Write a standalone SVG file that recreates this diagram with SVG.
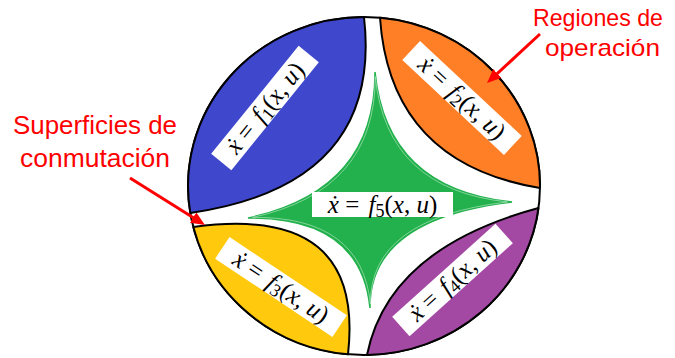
<svg xmlns="http://www.w3.org/2000/svg" width="675" height="358" viewBox="0 0 675 358">
<style>
.reg{stroke:#000;stroke-width:2;stroke-linejoin:round}
.lb{fill:#fff}
.mt{font-family:"Liberation Serif","DejaVu Serif",serif;font-size:25px;fill:#000;text-anchor:middle}
.i{font-style:italic}
.sub{font-size:18px}
.red{font-family:"Liberation Sans",Arial,sans-serif;font-size:26px;fill:#f00;text-anchor:middle}
.red2{font-family:"Liberation Sans",Arial,sans-serif;font-size:24px;fill:#f00;text-anchor:middle}
.arr{stroke:#f00;stroke-width:3;fill:none}
</style>
<defs>
<marker id="ah" markerUnits="userSpaceOnUse" markerWidth="14" markerHeight="12" refX="6" refY="6" orient="auto">
<path d="M0,0 L14,6 L0,12 Z" fill="#f00"/>
</marker>
</defs>
<rect width="675" height="358" fill="#fff"/>
<g id="outline">
<ellipse cx="364" cy="186" rx="176" ry="169" fill="#fff" stroke="#000" stroke-width="2"/>
</g>
<g id="region1">
<path class="reg" fill="#3F48CC" d="M364,17 A176 169 0 0 0 190.3,213 Q383,185 364,17 Z"/>
<g transform="translate(265,108) rotate(-51)">
<rect class="lb" x="-69.5" y="-13" width="139" height="26"/>
<text class="mt" x="0" y="8"><tspan class="i">ẋ</tspan> = <tspan class="i" dx="3">f</tspan><tspan class="sub" dy="4">1</tspan><tspan dy="-4">(</tspan><tspan class="i">x</tspan>, <tspan class="i">u</tspan>)</text>
</g>
</g>
<g id="region2">
<path class="reg" fill="#FF7F27" d="M380,17.7 A176 169 0 0 1 540,188 Q390,163 380,17.7 Z"/>
<g transform="translate(462,98) rotate(43)">
<rect class="lb" x="-69.5" y="-13" width="139" height="26"/>
<text class="mt" x="0" y="8"><tspan class="i">ẋ</tspan> = <tspan class="i" dx="3">f</tspan><tspan class="sub" dy="4">2</tspan><tspan dy="-4">(</tspan><tspan class="i">x</tspan>, <tspan class="i">u</tspan>)</text>
</g>
</g>
<g id="region3">
<path class="reg" fill="#FFC90E" d="M193.3,227 A176 169 0 0 0 348,354.3 Q365,203.5 193.3,227 Z"/>
<g transform="translate(281,287) rotate(33.7)">
<rect class="lb" x="-70.5" y="-13" width="141" height="26"/>
<text class="mt" x="0" y="8"><tspan class="i">ẋ</tspan> = <tspan class="i" dx="3">f</tspan><tspan class="sub" dy="4">3</tspan><tspan dy="-4">(</tspan><tspan class="i">x</tspan>, <tspan class="i">u</tspan>)</text>
</g>
</g>
<g id="region4">
<path class="reg" fill="#A349A4" d="M538.5,208 A176 169 0 0 1 367,355 Q388.5,248.5 538.5,208 Z"/>
<g transform="translate(452.5,280) rotate(-42)">
<rect class="lb" x="-69.5" y="-13" width="139" height="26"/>
<text class="mt" x="0" y="8"><tspan class="i">ẋ</tspan> = <tspan class="i" dx="3">f</tspan><tspan class="sub" dy="4">4</tspan><tspan dy="-4">(</tspan><tspan class="i">x</tspan>, <tspan class="i">u</tspan>)</text>
</g>
</g>
<g id="region5">
<path fill="#22B14C" stroke="#22B14C" stroke-width="1.5" d="M375,72 Q386.5,189 512,202 Q369,219 370,308 Q361,217 248,218 Q375.5,190.5 375,72 Z"/>
<path fill="none" stroke="#c8ecd2" stroke-width="0.6" transform="translate(382,200) scale(0.965) translate(-382,-200)" d="M375,72 Q386.5,189 512,202 Q369,219 370,308 Q361,217 248,218 Q375.5,190.5 375,72 Z"/>
<rect class="lb" x="312" y="192" width="141" height="25"/>
<text class="mt" x="382.5" y="212.5"><tspan class="i">ẋ</tspan> = <tspan class="i" dx="3">f</tspan><tspan class="sub" dy="4">5</tspan><tspan dy="-4">(</tspan><tspan class="i">x</tspan>, <tspan class="i">u</tspan>)</text>
</g>
<g id="label-superficies">
<text class="red" x="95" y="134" textLength="164" lengthAdjust="spacingAndGlyphs">Superficies de</text>
<text class="red" x="95" y="167" textLength="150" lengthAdjust="spacingAndGlyphs">conmutación</text>
</g>
<g id="label-regiones">
<text class="red2" x="598" y="26" textLength="130" lengthAdjust="spacingAndGlyphs">Regiones de</text>
<text class="red2" x="602.5" y="56" textLength="115" lengthAdjust="spacingAndGlyphs">operación</text>
</g>
<g id="connectors">
<line class="arr" x1="540" y1="34" x2="492.9" y2="77.6" marker-end="url(#ah)"/>
<line class="arr" x1="130" y1="178" x2="198.2" y2="220.75" marker-end="url(#ah)"/>
</g>
</svg>
